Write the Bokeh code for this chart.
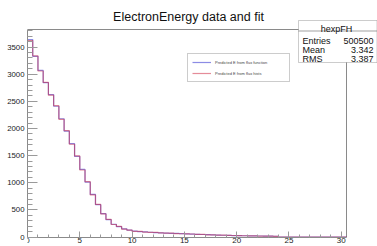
import numpy as np
from bokeh.plotting import figure
from bokeh.models import (Range1d, Label, BoxAnnotation, Legend, LegendItem,
                          SingleIntervalTicker)
from bokeh.embed import file_html
from bokeh.resources import INLINE

# ---------------- data ----------------
title_text = "ElectronEnergy data and fit"
hist_name = "hexpFH"
stats_labels = ["Entries", "Mean", "RMS"]
stats_values = ["500500", "3.342", "3.387"]
series_names = ["Predicted E from flux function", "Predicted E from flux hists"]

x_low, x_high, bin_width = 0.0, 30.5, 0.5
y_max = 3825

flux_function = [3640, 3330, 3070, 2845, 2625, 2410, 2180, 1950, 1720, 1485,
                 1245, 1010, 785, 595, 430, 320, 235, 190, 150, 125,
                 110, 100, 94, 88, 82, 77, 72, 68, 65, 61,
                 58, 54, 50, 46, 42, 38, 35, 32, 30, 27,
                 25, 23, 22, 20, 18, 17, 15, 14, 0, 0,
                 0, 0, 0, 0, 0, 0, 0, 0, 0, 0, 0]
flux_hists = [3620, 3340, 3060, 2850, 2615, 2420, 2170, 1960, 1710, 1495,
              1235, 1020, 775, 600, 425, 325, 230, 195, 145, 128,
              105, 102, 90, 86, 84, 75, 70, 70, 63, 60,
              56, 55, 48, 47, 40, 39, 34, 33, 29, 28,
              24, 23, 21, 20, 17, 17, 15, 13, 0, 0,
              0, 0, 0, 0, 0, 0, 0, 0, 0, 0, 0]

edges = list(np.arange(x_low, x_high + bin_width / 2, bin_width))

# ---------------- layout ----------------
# (bokeh's page template has no body margin: canvas sits at the window origin)
W, H = 377, 246
# visible histogram box, in canvas pixels
BX0, BX1, BY0, BY1 = 27, 346, 29, 236.5
# bokeh frame: extends to the top, right and bottom canvas edges so that
# title, stats box and x tick labels are all inside it
FX0, FX1, FY0, FY1 = BX0, W, 0, H

sx = (BX1 - BX0) / (x_high - x_low)
sy = (BY1 - BY0) / y_max
x_end = x_low + (FX1 - BX0) / sx
y_start = -(FY1 - BY1) / sy
y_end = (BY1 - FY0) / sy


def dx(px):
    return x_low + (px - BX0) / sx


def dy(py):
    return (BY1 - py) / sy


FONT = "Liberation Sans"
GRAY = "#8a8a8a"

p = figure(width=W, height=H, output_backend="svg", toolbar_location=None,
           x_range=Range1d(x_low, x_end), y_range=Range1d(y_start, y_end),
           min_border_left=FX0, min_border_right=W - FX1,
           min_border_top=FY0, min_border_bottom=H - FY1)
p.title.visible = False
p.grid.visible = False
p.outline_line_color = None
p.background_fill_color = "white"
p.border_fill_color = "white"

p.xaxis.ticker = SingleIntervalTicker(interval=5, num_minor_ticks=5)
p.yaxis.ticker = SingleIntervalTicker(interval=500, num_minor_ticks=5)
p.xaxis.bounds = (x_low, x_high)
p.yaxis.bounds = (0, y_max)
p.xaxis.fixed_location = 0
for ax in (p.xaxis[0], p.yaxis[0]):
    ax.axis_label = None
    ax.axis_label_standoff = 0
    ax.axis_line_color = GRAY
    ax.major_tick_line_color = "#9a9a9a"
    ax.minor_tick_line_color = "#9a9a9a"
    ax.major_tick_out = 0
    ax.minor_tick_out = 0
    ax.major_label_text_font = FONT
    ax.major_label_text_color = "#222222"
p.xaxis.major_tick_in = 6
p.xaxis.minor_tick_in = 3
p.yaxis.major_tick_in = 10
p.yaxis.minor_tick_in = 5
p.xaxis.major_label_text_font_size = "8px"
p.yaxis.major_label_text_font_size = "7.8px"
p.xaxis.major_label_standoff = 1
p.yaxis.major_label_standoff = 3

# top and right edges of the histogram frame
p.line([x_low, x_high, x_high], [y_max, y_max, 0], line_color=GRAY, line_width=1)

r1 = p.step(edges, flux_function + [flux_function[-1]], mode="after",
            line_color="#1a1acc", line_alpha=0.5, line_width=1.2)
r2 = p.step(edges, flux_hists + [flux_hists[-1]], mode="after",
            line_color="#cc1a33", line_alpha=0.5, line_width=1.2)

leg_left, leg_top, leg_h = 187, 55, 27
legend = Legend(items=[LegendItem(label=series_names[0], renderers=[r1]),
                       LegendItem(label=series_names[1], renderers=[r2])],
                location=(leg_left - FX0, FY1 - (leg_top + leg_h)),
                orientation="vertical",
                label_text_font=FONT, label_text_font_size="4px",
                label_text_color="#444444", glyph_width=19, glyph_height=8,
                label_height=8, label_width=70, label_standoff=4,
                padding=4, spacing=3, margin=0,
                border_line_color="#999999", border_line_width=1,
                background_fill_color="white", background_fill_alpha=1)
p.add_layout(legend)

# title
p.add_layout(Label(x=dx(188), y=dy(16.7), text=title_text, text_align="center",
                   text_baseline="alphabetic", text_font=FONT,
                   text_font_size="12.5px", text_color="#111111"))

# stats box
p.add_layout(BoxAnnotation(left=dx(298), right=dx(376.5), top=dy(20), bottom=dy(62),
                           fill_color="white", fill_alpha=1.0,
                           line_color="#555555", line_width=1))
p.add_layout(BoxAnnotation(left=dx(298), right=dx(376.5), top=dy(30.5), bottom=dy(30.5),
                           fill_alpha=0.0, line_color="#555555", line_width=1))
p.add_layout(Label(x=dx(336), y=dy(28.3), text=hist_name, text_align="center",
                   text_baseline="alphabetic", text_font=FONT,
                   text_font_size="9px", text_color="#111111"))
for i, (lab, val) in enumerate(zip(stats_labels, stats_values)):
    yb = dy(40 + 9.2 * i)
    p.add_layout(Label(x=dx(302), y=yb, text=lab, text_align="left",
                       text_baseline="alphabetic", text_font=FONT,
                       text_font_size="9px", text_color="#111111"))
    p.add_layout(Label(x=dx(373), y=yb, text=val, text_align="right",
                       text_baseline="alphabetic", text_font=FONT,
                       text_font_size="9px", text_color="#111111"))

open("out.html", "w").write(file_html(p, INLINE))
